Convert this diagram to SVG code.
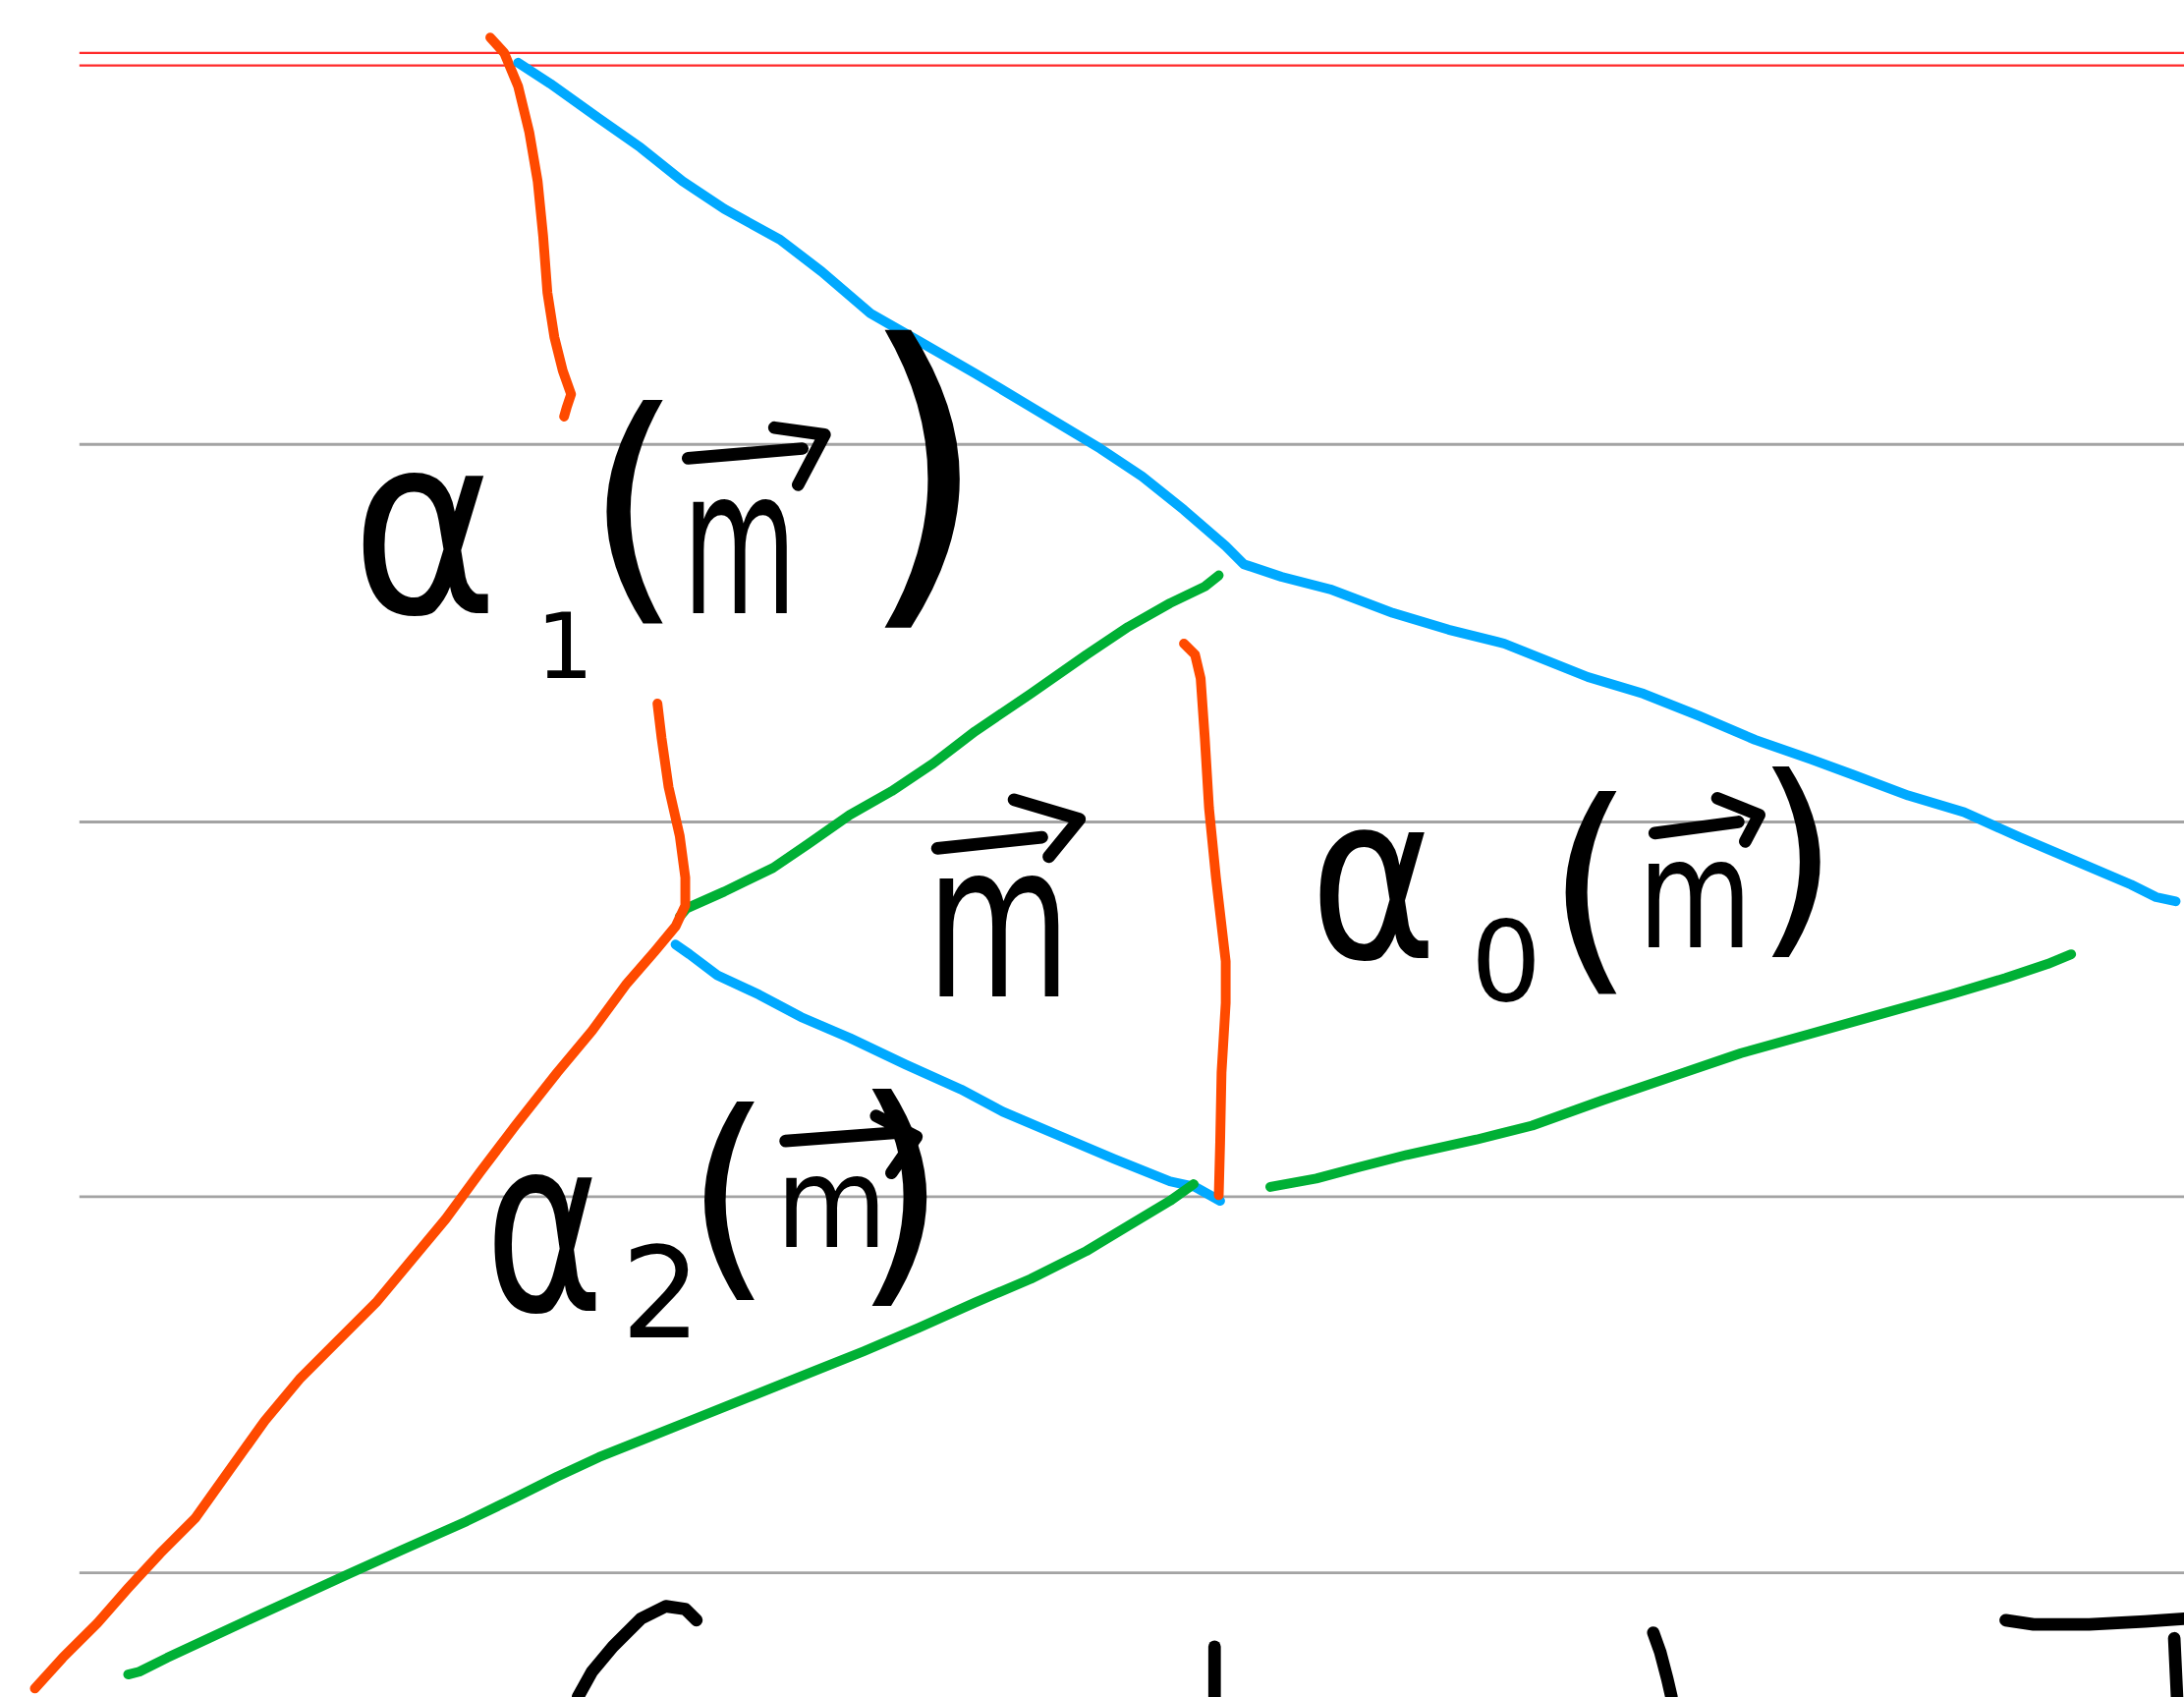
<svg xmlns="http://www.w3.org/2000/svg" width="2223" height="1727" viewBox="0 0 2223 1727">
<style>
.red{stroke:#ff2a2a;stroke-width:1.6;fill:none}
.rule{stroke:#a3a3a3;stroke-width:2;fill:none}
.s{fill:none;stroke-width:7;stroke-linecap:round;stroke-linejoin:round}
.o{stroke:#ff4a00}
.b{stroke:#00a9ff}
.g{stroke:#00b035}
.k{stroke:#000;stroke-width:9}
.t{font-family:"DejaVu Sans",sans-serif;fill:#000}
</style>
<rect width="2223" height="1727" fill="#fff"/>
<g transform="scale(1.41773)">
<g id="paper">
<line class="red" x1="57" y1="38" x2="1568" y2="38"/>
<line class="red" x1="57" y1="47" x2="1568" y2="47"/>
<line class="rule" x1="57" y1="319" x2="1568" y2="319"/>
<line class="rule" x1="57" y1="590" x2="1568" y2="590"/>
<line class="rule" x1="57" y1="859" x2="1568" y2="859"/>
<line class="rule" x1="57" y1="1129" x2="1568" y2="1129"/>
</g>
<g id="connectors">
<path class="s o" d="M352,27 L362,38 L372,62 L380,95 L386,130 L390,170 L393,210 L398,242 L404,266 L410,283 L407,292 L405,299"/>
<path class="s b" d="M372,45 L395,60 L430,85 L460,106 L490,130 L520,150 L560,172 L590,195 L625,225 L660,245 L700,268 L740,292 L790,322 L820,342 L850,366 L880,392 L893,405 L920,414 L955,423 L1000,440 L1040,452 L1080,462 L1140,486 L1180,498 L1220,514 L1260,531 L1300,545 L1330,556 L1370,571 L1410,583 L1450,601 L1490,618 L1530,635 L1548,644 L1562,647"/>
<path class="s g" d="M875,413 L865,421 L840,433 L810,450 L780,470 L740,498 L700,525 L670,548 L640,568 L610,585 L580,606 L555,623 L520,640 L493,652 L488,658"/>
<path class="s o" d="M472,505 L475,530 L480,565 L488,600 L492,630 L492,650 L485,665 L470,683 L450,706 L425,740 L400,770 L370,808 L345,841 L320,875 L295,905 L270,935 L240,965 L215,990 L190,1020 L165,1055 L140,1090 L115,1115 L92,1140 L70,1165 L45,1190 L25,1212"/>
<path class="s b" d="M485,678 L495,685 L515,700 L545,714 L575,730 L610,745 L650,764 L690,782 L720,798 L760,815 L800,832 L840,848 L858,852 L876,862"/>
<path class="s o" d="M850,462 L858,470 L862,487 L865,530 L868,580 L873,630 L880,690 L880,720 L877,770 L876,820 L875,858"/>
<path class="s g" d="M857,850 L840,862 L810,880 L780,898 L740,918 L700,935 L660,953 L620,970 L580,986 L540,1002 L500,1018 L465,1032 L430,1046 L400,1060 L370,1075 L335,1092 L290,1112 L250,1130 L215,1146 L180,1162 L150,1176 L120,1190 L100,1200 L92,1202"/>
<path class="s g" d="M912,852 L945,846 L975,838 L1010,829 L1060,818 L1100,808 L1150,790 L1200,773 L1250,756 L1300,742 L1350,728 L1400,714 L1440,702 L1470,692 L1487,685"/>
<path class="s k" d="M500,1163 L492,1155 L478,1153 L460,1162 L440,1182 L425,1200 L415,1218"/>
<path class="s k" d="M872,1182 L872,1218"/>
<path class="s k" d="M1187,1172 L1192,1186 L1197,1205 L1200,1218"/>
<path class="s k" d="M1440,1163 L1460,1166 L1500,1166 L1540,1164 L1568,1162"/>
<path class="s k" d="M1561,1176 L1563,1218"/>
</g>
<g id="label-alpha1">
<text class="t"><tspan x="252" y="440" font-size="180" textLength="106" lengthAdjust="spacingAndGlyphs">α</tspan><tspan x="385" y="487" font-size="65">1</tspan><tspan x="420" y="424" font-size="180">(</tspan><tspan x="490" y="440" font-size="146" textLength="82" lengthAdjust="spacingAndGlyphs">m</tspan><tspan x="616" y="419" font-size="240">)</tspan></text>
<path class="s k" d="M494,329 L576,322 M556,307 L592,312 L573,348"/>
</g>
<g id="label-m">
<text class="t" x="665" y="715" font-size="155" textLength="104" lengthAdjust="spacingAndGlyphs">m</text>
<path class="s k" d="M673,609 L748,601 M728,574 L775,588 L753,615"/>
</g>
<g id="label-alpha2">
<text class="t"><tspan x="348" y="940" font-size="175" textLength="86" lengthAdjust="spacingAndGlyphs">α</tspan><tspan x="446" y="960" font-size="90">2</tspan><tspan x="492" y="912" font-size="160">(</tspan><tspan x="557" y="895" font-size="90" textLength="80" lengthAdjust="spacingAndGlyphs">m</tspan><tspan x="612" y="915" font-size="175">)</tspan></text>
<path class="s k" d="M564,819 L644,813 M629,801 L658,816 L640,842"/>
</g>
<g id="label-alpha0">
<text class="t"><tspan x="940" y="688" font-size="165" textLength="92" lengthAdjust="spacingAndGlyphs">α</tspan><tspan x="1056" y="718" font-size="80">0</tspan><tspan x="1110" y="692" font-size="163">(</tspan><tspan x="1176" y="680" font-size="110" textLength="82" lengthAdjust="spacingAndGlyphs">m</tspan><tspan x="1260" y="667" font-size="154">)</tspan></text>
<path class="s k" d="M1188,598 L1248,590 M1233,573 L1263,585 L1253,604"/>
</g>
</g>
</svg>
